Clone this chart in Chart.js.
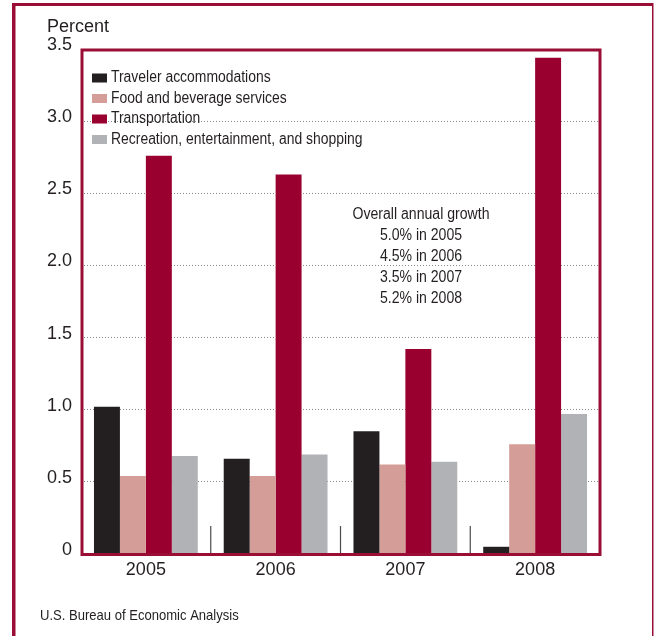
<!DOCTYPE html>
<html>
<head>
<meta charset="utf-8">
<script src="https://cdn.jsdelivr.net/npm/chart.js@4.4.1/dist/chart.umd.min.js"></script>
<style>
  html, body { margin: 0; padding: 0; background: #fff; }
  canvas { display: block; }
</style>
</head>
<body>
<canvas id="travelChart" width="654" height="636"></canvas>
<script>
    // Chart data
    const years = ["2005", "2006", "2007", "2008"];
    const accommodations = [1.02, 0.66, 0.85, 0.05];
    const foodBeverage = [0.54, 0.54, 0.62, 0.76];
    const transportation = [2.76, 2.63, 1.42, 3.44];
    const recreation = [0.68, 0.69, 0.64, 0.97];
    const seriesNames = [
        "Traveler accommodations",
        "Food and beverage services",
        "Transportation",
        "Recreation, entertainment, and shopping",
    ];
    const seriesColors = ["#231f20", "#d59d98", "#990030", "#b1b2b5"];
    const growthNotes = [
        "Overall annual growth",
        "5.0% in 2005",
        "4.5% in 2006",
        "3.5% in 2007",
        "5.2% in 2008",
    ];
    const sourceNote = "U.S. Bureau of Economic Analysis";
    const yTitle = "Percent";

    const FRAME = "#9a0e35";
    const TEXT = "#231f20";
    const FONT = "'Liberation Sans', Arial, sans-serif";

    // draws text squeezed horizontally, like the narrow Helvetica of the original
    function condensedText(ctx, text, x, y, size, ratio, align) {
        ctx.save();
        ctx.font = size + "px " + FONT;
        ctx.fillStyle = TEXT;
        ctx.textBaseline = "middle";
        const w = ctx.measureText(text).width * ratio;
        let left = x;
        if (align === "center") left = x - w / 2;
        ctx.textAlign = "left";
        ctx.translate(left, y);
        ctx.scale(ratio, 1);
        ctx.fillText(text, 0, 0);
        ctx.restore();
    }

    const decorations = {
        id: "decorations",
        beforeDraw(chart) {
            const ctx = chart.ctx;
            ctx.save();
            ctx.fillStyle = "#fff";
            ctx.fillRect(0, 0, chart.width, chart.height);
            // outer frame: thick left and top, thin right
            ctx.fillStyle = FRAME;
            ctx.fillRect(12, 3, 3.5, chart.height - 3);
            ctx.fillRect(12, 3, 641, 3);
            ctx.fillRect(652, 3, 1.5, chart.height - 3);
            ctx.restore();
        },
        afterDraw(chart) {
            const ctx = chart.ctx;
            const a = chart.chartArea;
            const x = chart.scales.x;

            // small separators between year groups
            ctx.save();
            ctx.strokeStyle = "#4a4a4a";
            ctx.lineWidth = 1.2;
            for (let i = 1; i < years.length; i++) {
                const px = (x.getPixelForValue(i - 1) + x.getPixelForValue(i)) / 2;
                ctx.beginPath();
                ctx.moveTo(px, a.bottom - 28);
                ctx.lineTo(px, a.bottom);
                ctx.stroke();
            }
            ctx.restore();

            // plot box
            ctx.save();
            ctx.strokeStyle = FRAME;
            ctx.lineWidth = 3;
            ctx.strokeRect(a.left + 1, a.top + 1, a.right - a.left - 1, a.bottom - a.top - 0.5);
            ctx.restore();

            // legend
            for (let i = 0; i < seriesNames.length; i++) {
                const cy = a.top + 29 + i * 20.5;
                ctx.fillStyle = seriesColors[i];
                ctx.fillRect(a.left + 11, cy - 4.5, 15, 9);
                condensedText(ctx, seriesNames[i], a.left + 30, cy, 16, 0.87, "left");
            }

            // growth note
            for (let i = 0; i < growthNotes.length; i++) {
                condensedText(ctx, growthNotes[i], a.left + 340, 215 + i * 21, 16, 0.88, "center");
            }

            condensedText(ctx, yTitle, 47, 27, 18, 1, "left");
            condensedText(ctx, sourceNote, 40, 616, 15, 0.87, "left");
        },
    };

    const ctx = document.getElementById("travelChart").getContext("2d");
    const allSeries = [accommodations, foodBeverage, transportation, recreation];

    new Chart(ctx, {
        type: "bar",
        data: {
            labels: years,
            datasets: allSeries.map((values, i) => ({
                label: seriesNames[i],
                data: values,
                backgroundColor: seriesColors[i],
                borderWidth: 0,
                categoryPercentage: 0.8,
                barPercentage: 1.0,
            })),
        },
        options: {
            responsive: false,
            animation: false,
            devicePixelRatio: 1,
            layout: {
                padding: { top: 49, left: 0, right: 54, bottom: 0 },
            },
            plugins: {
                legend: { display: false },
                title: { display: false },
                tooltip: { enabled: false },
            },
            scales: {
                x: {
                    grid: { display: false },
                    border: { display: false },
                    ticks: {
                        color: TEXT,
                        font: { family: FONT, size: 18 },
                        padding: -3,
                    },
                    afterFit(scale) { scale.height = 82; },
                },
                y: {
                    min: 0,
                    max: 3.5,
                    border: { display: false, dash: [1, 2] },
                    grid: {
                        color: "#8a8a8a",
                        lineWidth: 1,
                        drawTicks: false,
                    },
                    ticks: {
                        stepSize: 0.5,
                        color: TEXT,
                        font: { family: FONT, size: 18 },
                        padding: 9,
                        labelOffset: -4,
                        callback: (v) => (v === 0 ? "0" : v.toFixed(1)),
                    },
                    afterFit(scale) { scale.width = 81; },
                },
            },
        },
        plugins: [decorations],
    });
</script>
</body>
</html>
